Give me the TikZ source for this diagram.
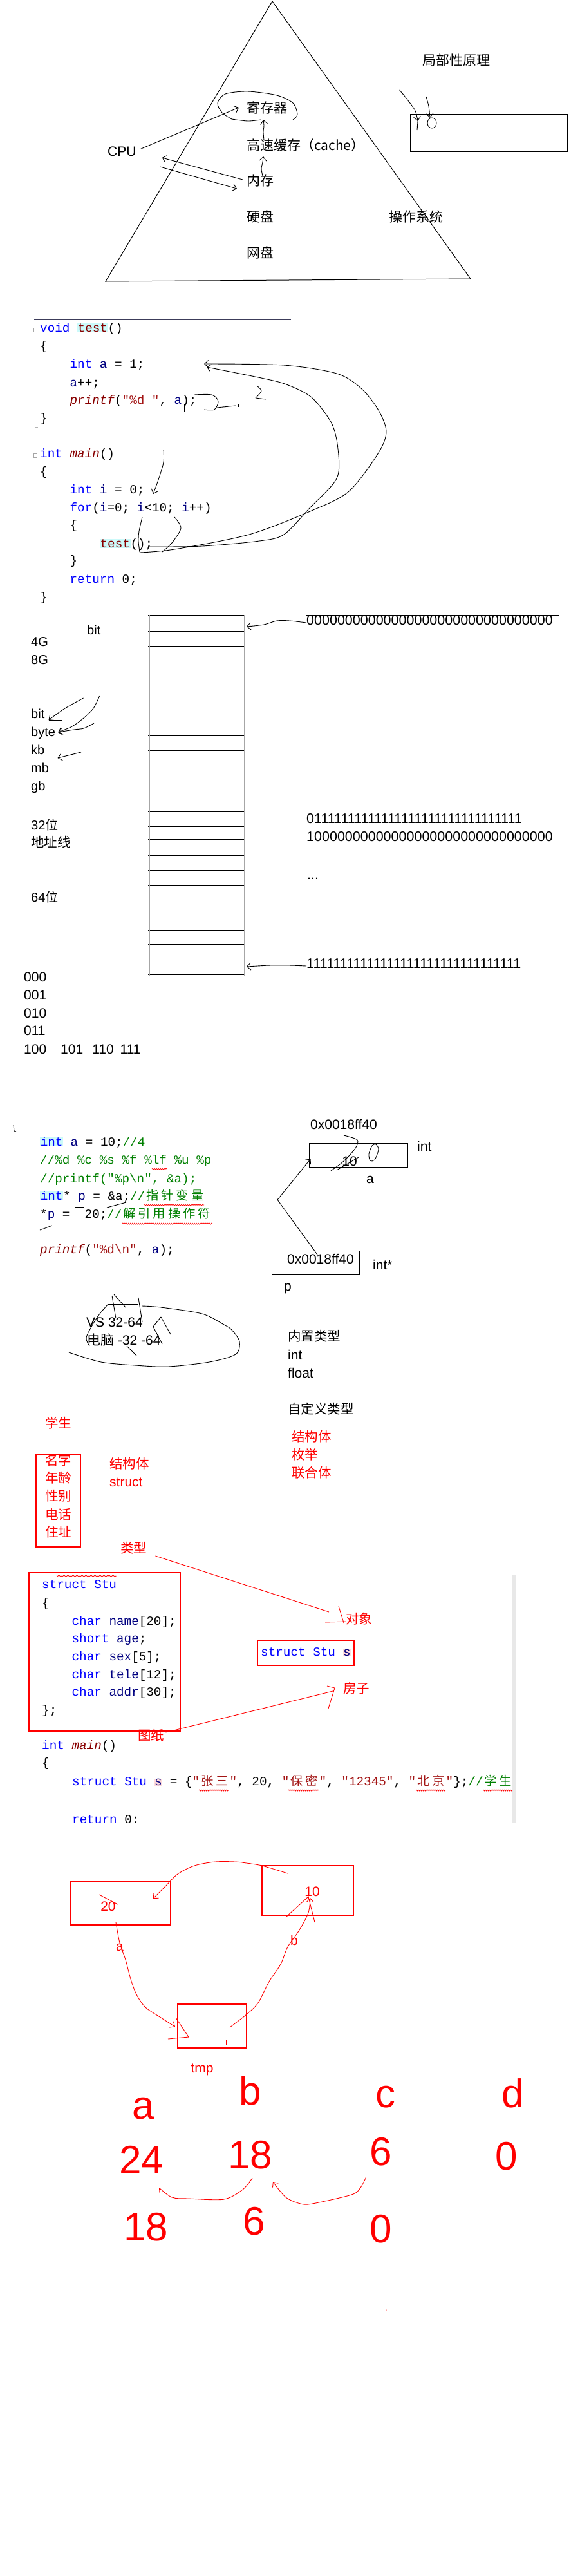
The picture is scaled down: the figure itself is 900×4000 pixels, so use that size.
\documentclass[tikz,border=0pt]{standalone}
\usepackage{fontspec}
\setmainfont{Liberation Sans}
\newfontfamily\cjk{Noto Sans CJK SC}
\newfontfamily\codef{Liberation Mono}
\usetikzlibrary{arrows.meta,decorations.pathmorphing,calc}
\definecolor{kw}{RGB}{0,0,255}
\definecolor{idn}{RGB}{0,0,128}
\definecolor{fnc}{RGB}{136,0,0}
\definecolor{strc}{RGB}{163,21,21}
\definecolor{cmt}{RGB}{0,128,0}
\definecolor{hlcy}{RGB}{204,250,250}
\definecolor{hlpk}{RGB}{255,220,220}
\definecolor{redx}{RGB}{255,0,0}
\definecolor{rulec}{RGB}{60,60,90}
\newcommand\fsz[1]{\fontsize{#1}{#1}\selectfont}
\newcommand\ckw[1]{\textcolor{kw}{#1}}
\newcommand\cid[1]{\textcolor{idn}{#1}}
\newcommand\cfn[1]{\textcolor{fnc}{\itshape #1}}
\newcommand\cfu[1]{\textcolor{fnc}{#1}}
\newcommand\cst[1]{\textcolor{strc}{#1}}
\newcommand\ccm[1]{\textcolor{cmt}{#1}}
\newcommand\chl[1]{{\setlength{\fboxsep}{0.6pt}\colorbox{hlcy}{#1}}}
\newcommand\cpk[1]{{\setlength{\fboxsep}{0.6pt}\colorbox{hlpk}{#1}}}
\newcommand\cz[1]{\makebox[23.2pt][c]{\cjk #1}}
\tikzset{
  lbl/.style={anchor=west, inner sep=0pt, text height=0.72em, text depth=0pt, font=\fsz{20}},
  cjkl/.style={anchor=west, inner sep=0pt, text height=0.88em, text depth=0.12em, font=\cjk\fsz{20.5}},
  code/.style={anchor=west, inner sep=0pt, text height=0.7em, text depth=0pt, font=\codef\fsz{19.3}},
  digits/.style={anchor=west, inner sep=0pt, text height=0.72em, text depth=0pt, font=\fsz{21.5}},
  hw/.style={text=redx, inner sep=0pt, font=\fsz{62}},
  hand/.style={line width=0.9pt},
  rhand/.style={line width=0.9pt, draw=redx},
  tip/.style={-{Straight Barb[length=6pt,width=11pt]}},
  wavy/.style={draw=redx, line width=0.7pt, decorate, decoration={snake, amplitude=1pt, segment length=3pt}},
  rbox/.style={draw=redx, line width=1.2pt, inner sep=0pt},
  bbox/.style={draw, line width=1pt, inner sep=0pt},
}
\begin{document}
\begin{tikzpicture}[x=1pt,y=-1pt]
\useasboundingbox (0,0) rectangle (900,4000);
\fill[white] (0,0) rectangle (900,4000);

%================ memory pyramid ================
\draw[line width=1pt] (423,2) -- (164,437) -- (731,433) -- cycle;
\node[cjkl, font=\cjk\fsz{21}] (loc) at (656,98) {局部性原理};
\node[cjkl, font=\cjk\fsz{21}] (reg) at (383,172) {寄存器};
\node[cjkl, font=\cjk\fsz{21}] (cache) at (383,230) {高速缓存（cache）};
\node[cjkl, font=\cjk\fsz{21}] (mem) at (383,285) {内存};
\node[cjkl, font=\cjk\fsz{21}] (disk) at (383,341) {硬盘};
\node[cjkl, font=\cjk\fsz{21}] (net) at (383,397) {网盘};
\node[cjkl, font=\cjk\fsz{21}] (os) at (604,341) {操作系统};
\node[lbl, font=\fsz{21}] (cpu) at (167,239) {CPU};
\draw[hand] plot[smooth] coordinates {(360,185) (345,175) (338,160) (350,146) (385,142) (430,148) (455,160) (462,178) (455,186)};
\draw[hand] plot[smooth] coordinates {(360,185) (385,188) (405,186)};
\draw[hand,tip] ($(cpu.north east)+(7,-4)$) -- ($(reg.west)+(-12,-5)$);
\draw[hand,tip] ($(mem.west)+(-6,-6)$) -- ($(cpu.east)+(40,6)$);
\draw[hand,tip] ($(cpu.east)+(37,20)$) -- ($(mem.west)+(-15,8)$);
\draw[hand,tip] plot[smooth] coordinates {(408,273) (406,262) (408,252) (409,243)};
\draw[hand,tip] plot[smooth] coordinates {(410,218) (409,205) (410,195) (409,186)};
\node[bbox, minimum width=244pt, minimum height=58pt] (locbox) at (759,206) {};
\draw[hand,tip] plot[smooth] coordinates {(620,139) (633,155) (645,172) (649,188)};
\draw[hand] (649,188) -- (648,202);
\draw[hand,tip] plot[smooth] coordinates {(662,150) (666,165) (668,183)};
\draw[hand] (671,191) ellipse [x radius=7pt, y radius=8pt];

%================ code 1 ================
\draw[rulec, line width=2pt] (53,496) -- (452,496);
\draw[gray!60] (54,506) -- (54,663) -- (59,663);
\draw[gray!60] (54,700) -- (54,942) -- (59,942);
\draw[gray!70] (52,509) rectangle (57,515);
\draw[gray!70] (52,704) rectangle (57,710);
\node[code] (c1) at (62,512) {\ckw{void} \chl{\cfu{test}}()};
\node[code] (c2) at (62,540) {\{};
\node[code] (c3) at (108.4,568) {\ckw{int} \cid{a} = 1;};
\node[code] (c4) at (108.4,597) {\cid{a}++;};
\node[code] (c5) at (108.4,624) {\cfn{printf}(\cst{"\%d "}, \cid{a});};
\node[code] (c6) at (62,652) {\}};
\node[code] (c7) at (62,707) {\ckw{int} \cfn{main}()};
\node[code] (c8) at (62,735) {\{};
\node[code] (c9) at (108.4,763) {\ckw{int} \cid{i} = 0;};
\node[code] (c10) at (108.4,791) {\ckw{for}(\cid{i}=0; \cid{i}<10; \cid{i}++)};
\node[code] (c11) at (108.4,818) {\{};
\node[code] (c12) at (154.8,847) {\chl{\cfu{test}}();};
\node[code] (c13) at (108.4,873) {\}};
\node[code] (c14) at (108.4,902) {\ckw{return} 0;};
\node[code] (c15) at (62,930) {\}};
\draw[hand,tip] plot[smooth] coordinates {(232,849) (314,848) (403,840) (441,830) (480,790) (523,743) (525,697) (515,657) (484,617) (445,597) (406,587) (321,570)};
\draw[hand,tip] plot[smooth] coordinates {(217,858) (271,853) (387,830) (484,793) (542,763) (588,703) (600,670) (588,637) (561,603) (523,580) (441,567) (317,565)};
\draw[hand,tip] plot[smooth] coordinates {(254,698) (254,718) (246,745) (238,767)};
\draw[hand] plot[smooth] coordinates {(221,803) (216,825) (215,840) (217,857)};
\draw[hand] plot[smooth] coordinates {(271,803) (281,820) (267,843) (252,857)};
\draw[hand] plot[smooth] coordinates {(302,613) (329,613) (339,623) (333,636) (317,636)};
\draw[hand] (337,633) -- (366,630);
\draw[hand] (370,627) -- (370,632);
\draw[hand] plot[smooth] coordinates {(399,599) (406,607) (397,618)};
\draw[hand] (397,618) -- (413,620);
\draw[hand] (286,627) -- (286,640);

%================ memory table ================
\foreach \yy in {955,980,1003,1026,1049,1071,1096,1119,1142,1165,1189,1214,1237,1260,1283,1303,1328,1351,1374,1397,1419,1444,1490,1513}
  \draw[line width=0.9pt] (230,\yy) -- (381,\yy);
\draw[line width=2pt] (230,1467) -- (381,1467);
\draw[gray!70, line width=0.8pt] (232,955) -- (232,1515);
\draw[gray!70, line width=0.8pt] (379,955) -- (379,1515);
\coordinate (rowtop) at (383,973);
\coordinate (rowbot) at (383,1501);
\node[bbox, minimum width=393pt, minimum height=557pt] (addrbox) at (671.5,1233.5) {};
\node[digits] (z0) at (476,967) {00000000000000000000000000000000};
\node[digits] (z1) at (476,1275) {01111111111111111111111111111111};
\node[digits] (z2) at (476,1303) {10000000000000000000000000000000};
\node[digits] (zd) at (477,1362) {...};
\node[digits] (z3) at (476,1500) {11111111111111111111111111111111};
\draw[hand,tip] plot[smooth] coordinates {(z0.west) (450,964) (430,964) (410,970) (rowtop)};
\draw[hand,tip] plot[smooth] coordinates {(z3.west) (450,1499) (420,1499) (400,1500) (rowbot)};
\node[lbl] (bit1) at (135,982) {bit};
\node[lbl] (g4) at (48,1000) {4G};
\node[lbl] (g8) at (48,1028) {8G};
\node[lbl] (bit2) at (48,1112) {bit};
\node[lbl] (byte) at (48,1140) {byte};
\node[lbl] (kb) at (48,1168) {kb};
\node[lbl] (mb) at (48,1196) {mb};
\node[lbl] (gb) at (48,1224) {gb};
\node[lbl] (b32) at (48,1285) {32{\cjk 位}};
\node[cjkl] (addrl) at (48,1312) {地址线};
\node[lbl] (b64) at (48,1397) {64{\cjk 位}};
\node[lbl, font=\fsz{21}] (n0) at (37,1521) {000};
\node[lbl, font=\fsz{21}] (n1) at (37,1549) {001};
\node[lbl, font=\fsz{21}] (n2) at (37,1577) {010};
\node[lbl, font=\fsz{21}] (n3) at (37,1604) {011};
\node[lbl, font=\fsz{21}] (n4) at (37,1633) {100\hspace{22pt}101\hspace{14pt}110\hspace{10pt}111};
\draw[hand,tip] ($(bit2.east)+(60,-28)$) .. controls (100,1100) .. ($(bit2.east)+(6,6)$);
\draw[hand] ($(bit2.east)+(6,6)$) -- ($(bit2.east)+(27,6)$);
\draw[hand,tip] plot[smooth] coordinates {(155,1080) (145,1100) (130,1115) (112,1128) ($(byte.east)+(4,-3)$)};
\draw[hand,tip] plot[smooth] coordinates {(146,1123) (130,1131) (115,1133) ($(byte.east)+(4,-3)$)};
\draw[hand,tip] plot[smooth] coordinates {(126,1168) (110,1172) ($(kb.east)+(20,9)$)};

%================ pointer ================
\draw[hand] (21,1747) -- (22,1756) -- (25,1757);
\node[code] (d1) at (62,1776) {\chl{\ckw{int}} \cid{a} = 10;\ccm{//4}};
\node[code] (d2) at (62,1804) {\ccm{//\%d \%c \%s \%f \%lf \%u \%p}};
\node[code] (d3) at (62,1833) {\ccm{//printf("\%p\textbackslash n", \&a);}};
\node[code] (d4) at (62,1860) {\chl{\ckw{int}}* \cid{p} = \&a;\ccm{//\cz{指}\cz{针}\cz{变}\cz{量}}};
\node[code] (d5) at (62,1888) {*\cid{p} =~ 20;\ccm{//\cz{解}\cz{引}\cz{用}\cz{操}\cz{作}\cz{符}}};
\node[code] (d6) at (62,1943) {\cfn{printf}(\cst{"\%d\textbackslash n"}, \cid{a});};
\draw[wavy] (236,1815) -- (259,1815);
\draw[wavy] (224,1871) -- (317,1871);
\draw[wavy] (190,1900) -- (330,1900);
\draw[hand] (116,1874) -- (131,1874);
\draw[hand] (166,1875) -- (196,1867);
\draw[hand] (62,1910) -- (81,1903);
\node[lbl, font=\fsz{21}] (addrA) at (482,1750) {0x0018ff40};
\node[bbox, minimum width=153pt, minimum height=37pt] (boxa) at (556.5,1793.5) {};
\node[inner sep=0pt, font=\fsz{21}] (ten) at (543,1803) {10};
\node[lbl, font=\fsz{21}] (inta) at (648,1784) {int};
\node[inner sep=0pt, font=\fsz{21}] (la) at (575,1832) {a};
\node[bbox, minimum width=136pt, minimum height=37pt] (boxp) at (490,1960.5) {};
\node[lbl, font=\fsz{21}] (addrP) at (446,1959) {0x0018ff40};
\node[lbl, font=\fsz{21}] (intp) at (579,1968) {int*};
\node[inner sep=0pt, font=\fsz{21}] (lp) at (447,2001) {p};
\draw[hand,tip] ($(boxp.north)+(4,8)$) -- (431,1863) -- ($(boxa.west)+(3,6)$);
\draw[hand] plot[smooth] coordinates {(534,1763) (555,1770) (552,1783) (534,1803) (514,1818)};
\draw[hand] (523,1817) -- (557,1797);
\draw[hand] plot[smooth cycle] coordinates {(584,1777) (588,1785) (582,1801) (575,1802) (573,1792) (578,1779)};

%================ VS / types ================
\node[lbl, font=\fsz{21}] (vs) at (134,2057) {VS 32-64};
\node[lbl, font=\fsz{21}] (pc) at (135,2085) {{\cjk 电脑} -32 -64};
\draw[hand] plot[smooth] coordinates {(107,2100) (157,2115) (210,2120) (261,2122) (325,2115) (366,2103) (372,2083) (360,2065) (348,2057) (314,2040) (250,2030) (221,2028)};
\draw[hand] plot[smooth] coordinates {(168,2025) (155,2040) (145,2055) (134,2077) (139,2090)};
\draw[hand] (168,2025) -- (215,2025);
\draw[hand] (174,2012) -- (180,2047);
\draw[hand] (177,2010) -- (195,2030);
\draw[hand] (215,2015) -- (221,2053);
\draw[hand] (250,2045) -- (238,2060) -- (252,2087);
\draw[hand] (250,2045) -- (265,2072);
\draw[hand] (139,2091) -- (232,2091);
\draw[hand] (197,2090) -- (212,2105);
\node[cjkl] (builtin) at (447,2079) {内置类型};
\node[lbl, font=\fsz{21}] (tint) at (447,2108) {int};
\node[lbl, font=\fsz{21}] (tfloat) at (447,2136) {float};
\node[cjkl] (custom) at (447,2192) {自定义类型};
\node[cjkl, text=redx] (ct1) at (453,2235) {结构体};
\node[cjkl, text=redx] (ct2) at (453,2263) {枚举};
\node[cjkl, text=redx] (ct3) at (453,2291) {联合体};
\node[cjkl, text=redx] (stu) at (70,2214) {学生};
\node[rbox, minimum width=69pt, minimum height=143pt] (attrbox) at (90.5,2330.5) {};
\node[cjkl, text=redx] (f1) at (70,2272) {名字};
\node[cjkl, text=redx] (f2) at (70,2299) {年龄};
\node[cjkl, text=redx] (f3) at (70,2327) {性别};
\node[cjkl, text=redx] (f4) at (70,2356) {电话};
\node[cjkl, text=redx] (f5) at (70,2383) {住址};
\node[cjkl, text=redx] (jgt) at (170,2277) {结构体};
\node[lbl, font=\fsz{21}, text=redx] (kwst) at (170,2305) {struct};

%================ struct ================
\node[cjkl, text=redx] (typ) at (187,2408) {类型};
\node[cjkl, text=redx] (obj) at (537,2518) {对象};
\draw[rhand] ($(typ.east)+(13,8)$) -- (511,2503);
\draw[rhand] (505,2519) -- (obj.west);
\draw[rhand] (526,2494) -- (534,2520);
\node[rbox, minimum width=235pt, minimum height=246pt] (stbox) at (162.5,2565) {};
\draw[wavy, line width=0.5pt, decoration={snake, amplitude=0.6pt, segment length=2pt}] (88,2447) -- (181,2447);
\node[code] (s1) at (65,2463) {\ckw{struct} \ckw{Stu}};
\node[code] (s2) at (65,2492) {\{};
\node[code] (s3) at (111.4,2520) {\ckw{char} \cid{name}[20];};
\node[code] (s4) at (111.4,2547) {\ckw{short} \cid{age};};
\node[code] (s5) at (111.4,2575) {\ckw{char} \cid{sex}[5];};
\node[code] (s6) at (111.4,2603) {\ckw{char} \cid{tele}[12];};
\node[code] (s7) at (111.4,2630) {\ckw{char} \cid{addr}[30];};
\node[code] (s8) at (65,2658) {\};};
\node[code] (s9) at (65,2713) {\ckw{int} \cfn{main}()};
\node[code] (s10) at (65,2740) {\{};
\fill[gray!18] (796,2446) rectangle (802,2830);
\node[rbox, minimum width=150pt, minimum height=39pt] (svbox) at (475,2566.5) {};
\node[code] (sv) at (405,2568) {\ckw{struct} \ckw{Stu} \cpk{\cid{s}}};
\node[cjkl, text=redx] (house) at (533,2626) {房子};
\node[cjkl, text=redx] (plan) at (214,2699) {图纸};
\draw[rhand] ($(plan.east)+(2,-9)$) -- ($(house.west)+(-16,0)$);
\draw[rhand] (508,2618) -- (520,2621) -- (510,2653);
\node[code] (e1) at (112,2769) {\ckw{struct} \ckw{Stu} \cpk{\cid{s}} = \{\cst{"\cz{张}\cz{三}"}, 20, \cst{"\cz{保}\cz{密}"}, \cst{"12345"}, \cst{"\cz{北}\cz{京}"}\};\ccm{//\cz{学}\cz{生}}};
\draw[wavy] (309,2780) -- (355,2780);
\draw[wavy] (448,2780) -- (495,2780);
\draw[wavy] (646,2780) -- (692,2780);
\draw[wavy] (750,2780) -- (796,2780);
\begin{scope}
\clip (100,2805) rectangle (400,2830);
\node[code] (e2) at (112,2828) {\ckw{return} 0;};
\end{scope}

%================ swap ================
\node[rbox, minimum width=156pt, minimum height=67pt] (box20) at (187,2955.5) {};
\node[rbox, minimum width=142pt, minimum height=77pt] (box10) at (478,2935.5) {};
\node[rbox, minimum width=107pt, minimum height=68pt] (boxtmp) at (329.5,3146) {};
\node[inner sep=0pt, font=\fsz{21}, text=redx] (v20) at (168,2960) {20};
\node[inner sep=0pt, font=\fsz{21}, text=redx] (v10) at (485,2937) {10};
\node[inner sep=0pt, font=\fsz{21}, text=redx] (va) at (186,3024) {a};
\node[inner sep=0pt, font=\fsz{21}, text=redx] (vb) at (457,3013) {b};
\node[inner sep=0pt, font=\fsz{21}, text=redx] (vtmp) at (314,3214) {tmp};
\draw[rhand,tip] plot[smooth] coordinates {(447,2909) (407,2897) (383,2893) (366,2891) (334,2891) (302,2897) (276,2910) (256,2930) (238,2948)};
\draw[rhand,tip] plot[smooth] coordinates {(180,2985) (186,3017) (195,3043) (203,3073) (212,3097) (226,3117) (250,3133) (272,3147)};
\draw[rhand] (261,3166) -- (293,3163) -- (273,3133);
\draw[rhand,tip] plot[smooth] coordinates {(357,3148) (383,3128) (401,3110) (418,3077) (436,3050) (447,3023) (465,2997) (479,2970) (482,2947)};
\draw[rhand] (444,2977) -- (479,2945) -- (489,2985);
\draw[rhand] (154,2942) -- (183,2957);
\draw[rhand] (492,2943) -- (492,2952);
\draw[rhand] (351,3167) -- (351,3175);

%================ handwriting ================
\node[hw] (ha) at (223,3274) {a};
\node[hw] (hb) at (389,3246) {b};
\node[hw] (hc) at (599,3256) {c};
\node[hw] (hd) at (797,3250) {d};
\node[hw] (h24) at (220,3354) {24};
\node[hw] (h18) at (389,3346) {18};
\node[hw] (h6) at (592,3341) {6};
\node[hw] (h0) at (787,3348) {0};
\node[hw] (i18) at (227,3458) {18};
\node[hw] (i6) at (395,3449) {6};
\node[hw] (i0) at (592,3461) {0};
\draw[rhand,tip] plot[smooth] coordinates {(392,3382) (377,3400) (348,3415) (293,3414) (267,3412) (247,3397)};
\draw[rhand,tip] plot[smooth] coordinates {(569,3380) (560,3397) (546,3408) (485,3422) (467,3422) (444,3412) (424,3388)};
\draw[rhand] (555,3383) -- (604,3383);
\draw[rhand] (582,3492) -- (586,3492);
\fill[redx] (600,3587) circle (0.7pt);
\end{tikzpicture}
\end{document}
